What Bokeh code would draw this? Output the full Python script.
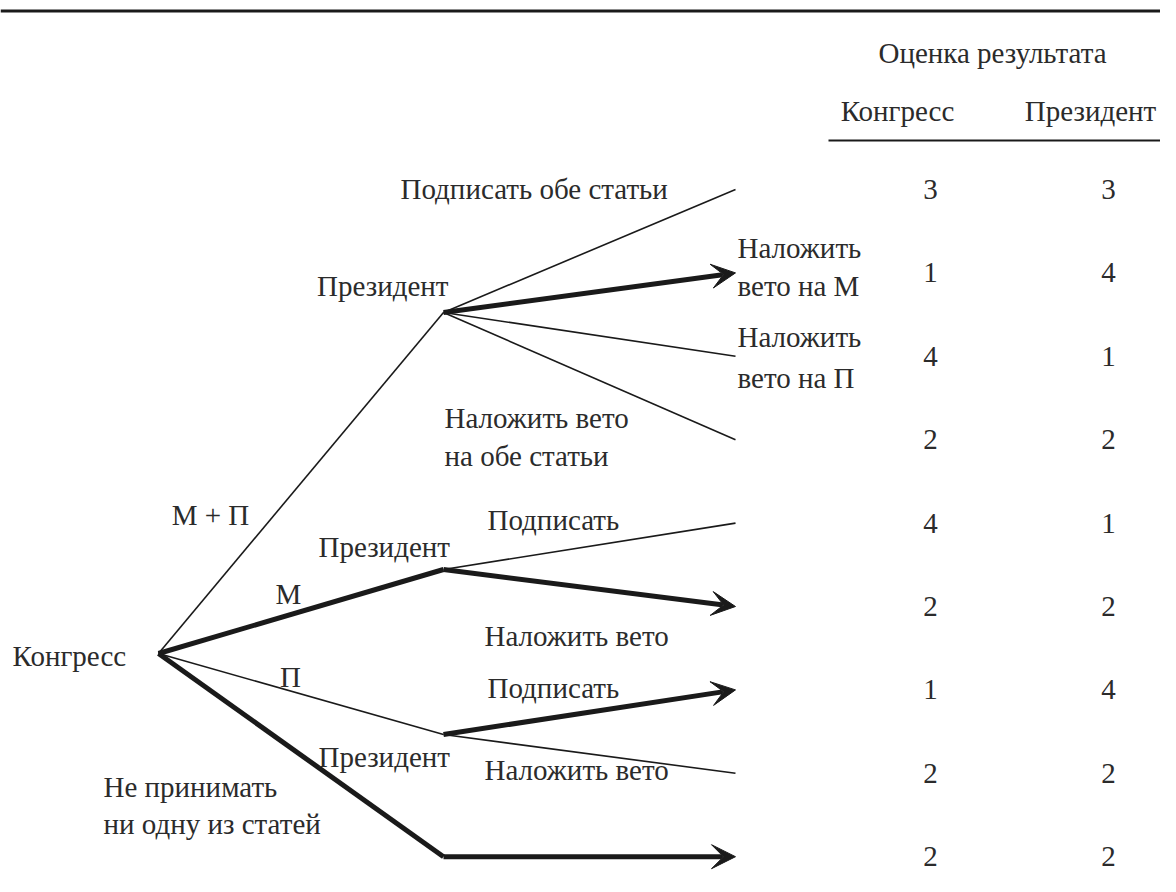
from bokeh.plotting import figure
from bokeh.models import Arrow, VeeHead, Range1d
from bokeh.core.properties import value
from bokeh.embed import file_html
from bokeh.resources import INLINE

# ---- data ----
congress_scores = [3, 1, 4, 2, 4, 2, 1, 2, 2]
president_scores = [3, 4, 1, 2, 1, 2, 4, 2, 2]
header_title = "Оценка результата"
column_names = ["Конгресс", "Президент"]
# tree: (from_node, to_node, bold, arrow)
edges = [
    ("root", "P1", False, False),
    ("root", "P2", True, False),
    ("root", "P3", False, False),
    ("root", "N", True, False),
    ("P1", 0, False, False),
    ("P1", 1, True, True),
    ("P1", 2, False, False),
    ("P1", 3, False, False),
    ("P2", 4, False, False),
    ("P2", 5, True, True),
    ("P3", 6, True, True),
    ("P3", 7, False, False),
    ("N", 8, True, True),
]

# ---- layout (pixel-like coordinates) ----
FONT = value("Liberation Serif")
FS = "29px"
TXT = "#2b2b2b"
LN = "#1a1a1a"
row_y = [189 + 83.4 * i for i in range(9)]
X_OUT = 735
nodes = {"root": (158, 653), "P1": (443, 312), "P2": (443, 569), "P3": (443, 734), "N": (443, row_y[8])}
for i, y in enumerate(row_y):
    nodes[i] = (X_OUT, y)

p = figure(width=1160, height=876, output_backend="svg", toolbar_location=None,
           x_range=Range1d(0, 1160), y_range=Range1d(876, 0),
           x_axis_location=None, y_axis_location=None, min_border=0)
p.grid.visible = False
p.outline_line_color = None
p.background_fill_color = "white"

# top rule and header underline
p.line([0, 1160], [10.5, 10.5], line_width=3, line_color=LN)
p.line([828, 1160], [140, 140], line_width=2, line_color=LN)

for a, b, bold, arrow in edges:
    x0, y0 = nodes[a]
    x1, y1 = nodes[b]
    lw = 5 if bold else 1.6
    if arrow:
        p.add_layout(Arrow(end=VeeHead(size=24, fill_color=LN, line_color=LN, line_width=1),
                           x_start=x0, y_start=y0, x_end=x1, y_end=y1,
                           line_width=lw, line_color=LN))
    else:
        p.line([x0, x1], [y0, y1], line_width=lw, line_color=LN)

def txt(x, y, s, align="left", size=FS):
    p.text(x=[x], y=[y], text=[s], text_font=FONT, text_font_size=size,
           text_color=TXT, text_align=align, text_baseline="middle")

# payoff table
txt(992, 52, header_title, "center")
txt(897, 110, column_names[0], "center")
txt(1090, 110, column_names[1], "center")
p.text(x=[930] * 9, y=row_y, text=[str(v) for v in congress_scores], text_font=FONT,
       text_font_size=FS, text_color=TXT, text_align="center", text_baseline="middle")
p.text(x=[1108] * 9, y=row_y, text=[str(v) for v in president_scores], text_font=FONT,
       text_font_size=FS, text_color=TXT, text_align="center", text_baseline="middle")

# tree labels
txt(12, 655, "Конгресс")
txt(210, 514, "М + П", "center")
txt(288, 593, "М", "center")
txt(290, 676, "П", "center")
txt(448, 285, "Президент", "right")
txt(400, 188, "Подписать обе статьи")
txt(737, 247, "Наложить")
txt(737, 285, "вето на М")
txt(737, 336, "Наложить")
txt(737, 377, "вето на П")
txt(444, 417, "Наложить вето")
txt(444, 455, "на обе статьи")
txt(318, 546, "Президент")
txt(487, 519, "Подписать")
txt(484, 635, "Наложить вето")
txt(487, 687, "Подписать")
txt(318, 756, "Президент")
txt(484, 769, "Наложить вето")
txt(103, 786, "Не принимать")
txt(103, 823, "ни одну из статей")

open("out.html", "w").write(file_html(p, INLINE))
